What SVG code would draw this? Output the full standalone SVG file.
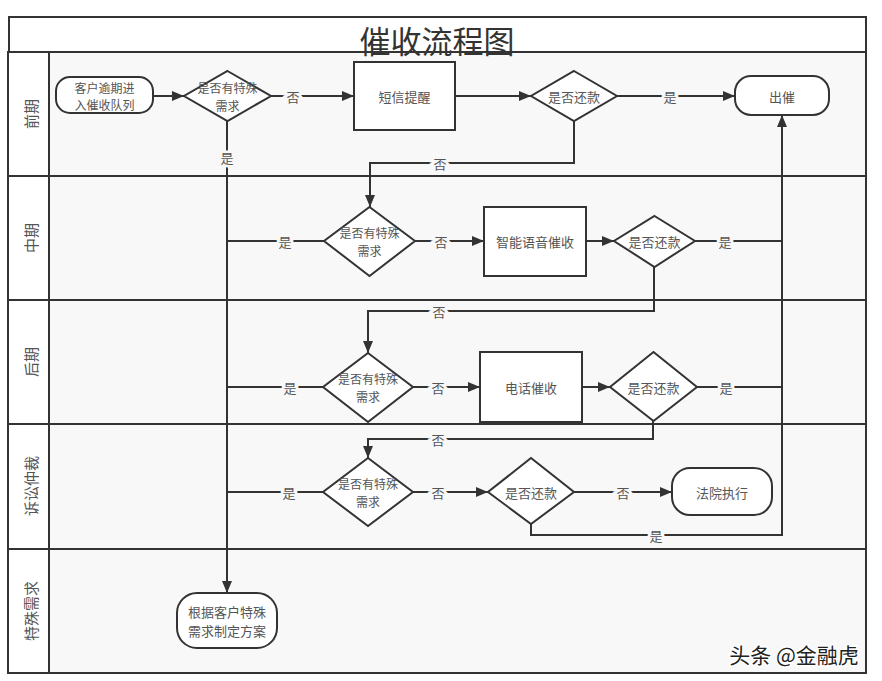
<svg xmlns="http://www.w3.org/2000/svg" width="882" height="681" viewBox="0 0 882 681">
<defs>
<marker id="arr" markerUnits="userSpaceOnUse" markerWidth="13" markerHeight="10" refX="12" refY="5" orient="auto">
<path d="M0,0 L12,5 L0,10 z" fill="#333"/>
</marker>
<style>
.t{font-family:"Noto Sans CJK SC","Liberation Sans",sans-serif;font-size:13px;fill:#555;text-anchor:middle;dominant-baseline:central}
.t2{font-family:"Noto Sans CJK SC","Liberation Sans",sans-serif;font-size:12px;fill:#555;text-anchor:middle;dominant-baseline:central}
.lbl{font-family:"Noto Sans CJK SC","Liberation Sans",sans-serif;font-size:13px;fill:#555;text-anchor:middle;dominant-baseline:central;stroke:#f8f8f8;stroke-width:5;paint-order:stroke}
.lane{font-family:"Noto Sans CJK SC","Liberation Sans",sans-serif;font-size:15px;fill:#555;text-anchor:middle;dominant-baseline:central}
.shape{fill:#fff;stroke:#333;stroke-width:2}
.ln{fill:none;stroke:#333;stroke-width:2}
.c{fill:none;stroke:#333;stroke-width:2}
</style>
</defs>
<rect width="882" height="681" fill="#fff"/>
<g id="frame">
<rect x="8" y="52" width="858" height="621" fill="#f8f8f8"/>
<rect x="8" y="52" width="41" height="621" fill="#fff"/>
<rect x="9" y="17" width="857" height="35" fill="#fff" class="ln"/>
<rect x="8" y="52" width="858" height="621" class="ln"/>
<line x1="49" y1="52" x2="49" y2="673" class="ln"/>
<line x1="8" y1="176" x2="866" y2="176" class="ln"/>
<line x1="8" y1="300" x2="866" y2="300" class="ln"/>
<line x1="8" y1="424" x2="866" y2="424" class="ln"/>
<line x1="8" y1="549" x2="866" y2="549" class="ln"/>
<text x="437" y="39" font-family="Noto Sans CJK SC,Liberation Sans,sans-serif" font-size="31" fill="#333" text-anchor="middle" dominant-baseline="central">催收流程图</text>
<text class="lane" transform="translate(30,114) rotate(-90)">前期</text>
<text class="lane" transform="translate(30,238) rotate(-90)">中期</text>
<text class="lane" transform="translate(30,362) rotate(-90)">后期</text>
<text class="lane" transform="translate(30,486) rotate(-90)">诉讼仲裁</text>
<text class="lane" transform="translate(30,611) rotate(-90)">特殊需求</text>
</g>
<g id="connectors">
<path class="c" d="M153,96 H184" marker-end="url(#arr)"/>
<path class="c" d="M271,96 H354" marker-end="url(#arr)"/>
<path class="c" d="M455,96 H531" marker-end="url(#arr)"/>
<path class="c" d="M617,96 H735" marker-end="url(#arr)"/>
<path class="c" d="M574,121 V163 H370 V207" marker-end="url(#arr)"/>
<path class="c" d="M227,121 V593" marker-end="url(#arr)"/>
<path class="c" d="M227,241 H324"/>
<path class="c" d="M415,241 H484" marker-end="url(#arr)"/>
<path class="c" d="M586,241 H614" marker-end="url(#arr)"/>
<path class="c" d="M695,241 H782"/>
<path class="c" d="M654,267 V311 H368 V353" marker-end="url(#arr)"/>
<path class="c" d="M227,387 H323"/>
<path class="c" d="M413,387 H480" marker-end="url(#arr)"/>
<path class="c" d="M582,387 H610" marker-end="url(#arr)"/>
<path class="c" d="M697,387 H782"/>
<path class="c" d="M653,421 V439 H368 V458" marker-end="url(#arr)"/>
<path class="c" d="M227,492 H323"/>
<path class="c" d="M413,492 H488" marker-end="url(#arr)"/>
<path class="c" d="M574,492 H672" marker-end="url(#arr)"/>
<path class="c" d="M531,524 V535 H782 V115" marker-end="url(#arr)"/>
<text class="lbl" x="293" y="96">否</text>
<text class="lbl" x="670" y="96">是</text>
<text class="lbl" x="440" y="163">否</text>
<text class="lbl" x="227" y="157">是</text>
<text class="lbl" x="285" y="241">是</text>
<text class="lbl" x="441" y="241">否</text>
<text class="lbl" x="725" y="241">是</text>
<text class="lbl" x="439" y="311">否</text>
<text class="lbl" x="290" y="387">是</text>
<text class="lbl" x="438" y="387">否</text>
<text class="lbl" x="726" y="387">是</text>
<text class="lbl" x="438" y="439">否</text>
<text class="lbl" x="289" y="492">是</text>
<text class="lbl" x="438" y="492">否</text>
<text class="lbl" x="623" y="492">否</text>
<text class="lbl" x="656" y="535">是</text>
</g>
<g id="start">
<rect class="shape" x="56" y="77" width="97" height="36" rx="14"/>
<text class="t2" x="104.5" y="87">客户逾期进</text>
<text class="t2" x="104.5" y="104">入催收队列</text>
</g>
<g id="d1">
<polygon class="shape" points="227.5,71 271,96 227.5,121 184,96"/>
<text class="t2" x="227.5" y="87">是否有特殊</text>
<text class="t2" x="227.5" y="105">需求</text>
</g>
<g id="sms">
<rect class="shape" x="354" y="62" width="101" height="68"/>
<text class="t" x="404.5" y="96">短信提醒</text>
</g>
<g id="d2">
<polygon class="shape" points="574,71 617,96 574,121 531,96"/>
<text class="t" x="574" y="96">是否还款</text>
</g>
<g id="out">
<rect class="shape" x="735" y="76" width="94" height="39" rx="16"/>
<text class="t" x="782" y="96">出催</text>
</g>
<g id="d3">
<polygon class="shape" points="369.5,207 415,241 369.5,276 324,241"/>
<text class="t2" x="369.5" y="232">是否有特殊</text>
<text class="t2" x="369.5" y="250">需求</text>
</g>
<g id="voice">
<rect class="shape" x="484" y="207" width="102" height="69"/>
<text class="t" x="535" y="241">智能语音催收</text>
</g>
<g id="d4">
<polygon class="shape" points="654.5,216 695,241 654.5,267 614,241"/>
<text class="t" x="654.5" y="241">是否还款</text>
</g>
<g id="d5">
<polygon class="shape" points="368,353 413,387 368,422 323,387"/>
<text class="t2" x="368" y="378">是否有特殊</text>
<text class="t2" x="368" y="396">需求</text>
</g>
<g id="phone">
<rect class="shape" x="480" y="352" width="102" height="70"/>
<text class="t" x="531" y="387">电话催收</text>
</g>
<g id="d6">
<polygon class="shape" points="653.5,352 697,387 653.5,421 610,387"/>
<text class="t" x="653.5" y="387">是否还款</text>
</g>
<g id="d7">
<polygon class="shape" points="368,458 413,492 368,526 323,492"/>
<text class="t2" x="368" y="483">是否有特殊</text>
<text class="t2" x="368" y="501">需求</text>
</g>
<g id="d8">
<polygon class="shape" points="531,458 574,492 531,524 488,492"/>
<text class="t" x="531" y="492">是否还款</text>
</g>
<g id="court">
<rect class="shape" x="672" y="468" width="100" height="47" rx="18"/>
<text class="t" x="722" y="492">法院执行</text>
</g>
<g id="plan">
<rect class="shape" x="177" y="593" width="100" height="55" rx="20"/>
<text class="t" x="227" y="611">根据客户特殊</text>
<text class="t" x="227" y="630">需求制定方案</text>
</g>
<text x="794" y="654" font-family="Noto Sans CJK SC,Liberation Sans,sans-serif" font-size="21" fill="#222" stroke="#fff" stroke-width="3" paint-order="stroke" text-anchor="middle" dominant-baseline="central">头条 @金融虎</text>
</svg>
